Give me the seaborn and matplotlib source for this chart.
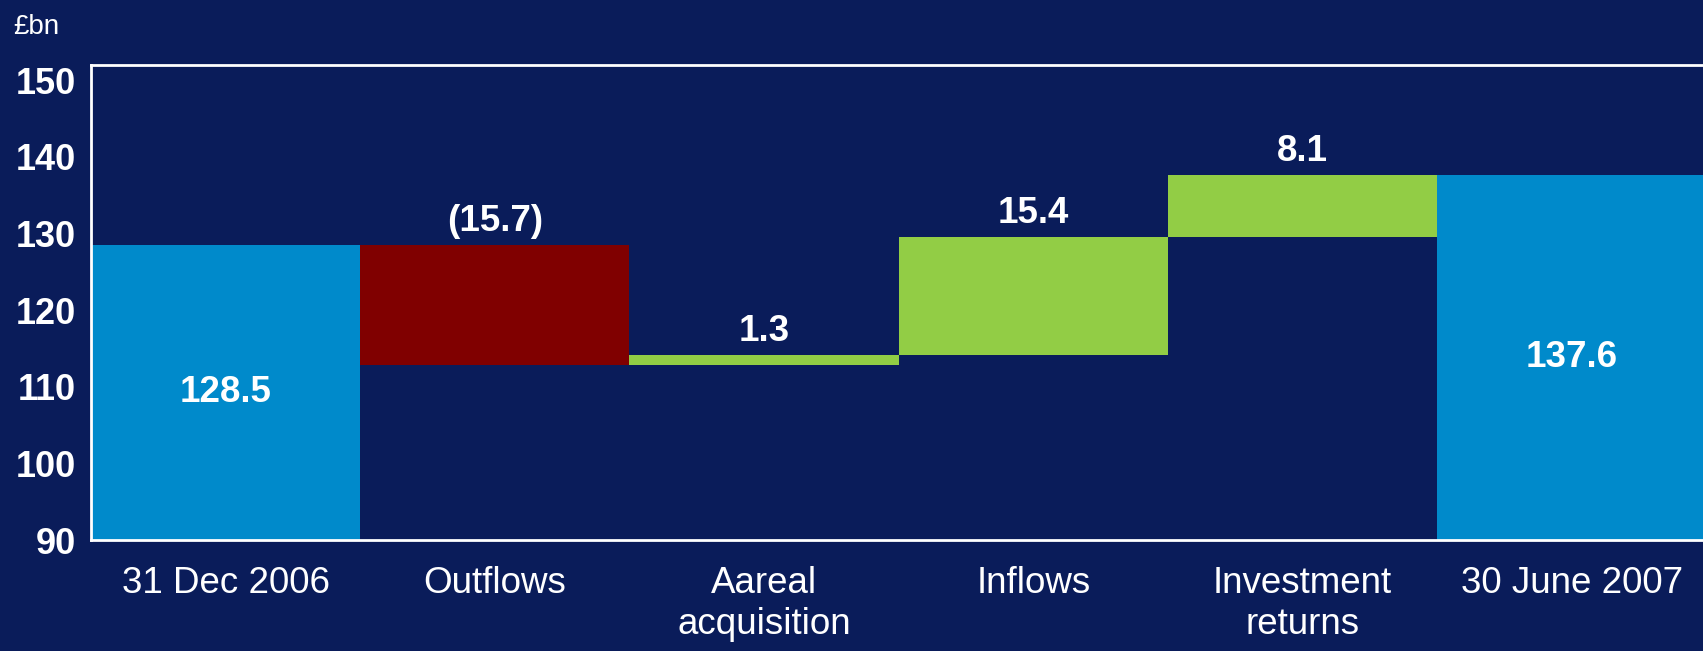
import matplotlib
matplotlib.use("Agg")
import matplotlib.pyplot as plt
import seaborn as sns
import numpy as np

# Funds under management bridge, £bn
categories = ["31 Dec 2006", "Outflows", "Aareal\nacquisition", "Inflows",
              "Investment\nreturns", "30 June 2007"]
changes = [128.5, -15.7, 1.3, 15.4, 8.1, 137.6]
is_total = [True, False, False, False, False, True]
y_ticks = [90, 100, 110, 120, 130, 140, 150]

BG = "#0A1C5A"
BLUE = "#008ACB"
RED = "#800000"
GREEN = "#92CD45"

# running totals -> bar bottoms and tops
bottoms, tops = [], []
level = 0.0
for v, tot in zip(changes, is_total):
    if tot:
        lo, hi = 0.0, v
        level = v
    else:
        lo, hi = (level, level + v) if v >= 0 else (level + v, level)
        level += v
    bottoms.append(lo)
    tops.append(hi)

colors = [BLUE if t else (GREEN if v >= 0 else RED) for v, t in zip(changes, is_total)]

sns.set_theme(style="white")
plt.rcParams["font.family"] = ["Liberation Sans", "DejaVu Sans"]

fig = plt.figure(figsize=(17.03, 6.51), dpi=100, facecolor=BG)
ax = fig.add_axes([91 / 1703, 1 - 540 / 651, 1 - 91 / 1703 + 0.002, (540 - 65) / 651])
ax.set_facecolor(BG)

sns.barplot(x=categories, y=tops, hue=categories, palette=colors, legend=False,
            width=1.0, saturation=1, ax=ax, linewidth=0)

# lift each floating bar onto its base
for patch, lo, hi in zip(ax.patches, bottoms, tops):
    patch.set_y(lo)
    patch.set_height(hi - lo)

ax.set_xlim(-0.5, 5.5)
ax.set_ylim(90, 152)
ax.set_yticks(y_ticks)
ax.set_yticklabels([str(t) for t in y_ticks], fontsize=26, fontweight="bold", color="white")
ax.tick_params(axis="x", length=0, pad=19, labelsize=26.5, labelcolor="white")
ax.tick_params(axis="y", length=0, pad=11)
for lbl in ax.get_xticklabels():
    lbl.set_linespacing(1.2)
ax.set_xlabel("")
ax.set_ylabel("")

for side in ["top", "left", "bottom"]:
    ax.spines[side].set_color("white")
    ax.spines[side].set_linewidth(2)
ax.spines["right"].set_visible(False)

# value labels
for i, (v, tot, lo, hi) in enumerate(zip(changes, is_total, bottoms, tops)):
    text = f"({abs(v):.1f})" if v < 0 else f"{v:.1f}"
    if tot:
        ax.text(i, (90 + hi) / 2, text, ha="center", va="center",
                fontsize=26.5, fontweight="bold", color="white")
    else:
        ax.annotate(text, (i, hi), xytext=(0, 17), textcoords="offset points",
                    ha="center", va="center", fontsize=26.5, fontweight="bold",
                    color="white")

fig.text(13 / 1703, 1 - 27 / 651, "£bn", ha="left", va="center",
         fontsize=20, color="white")

fig.savefig("out.png", dpi=100, facecolor=BG)
